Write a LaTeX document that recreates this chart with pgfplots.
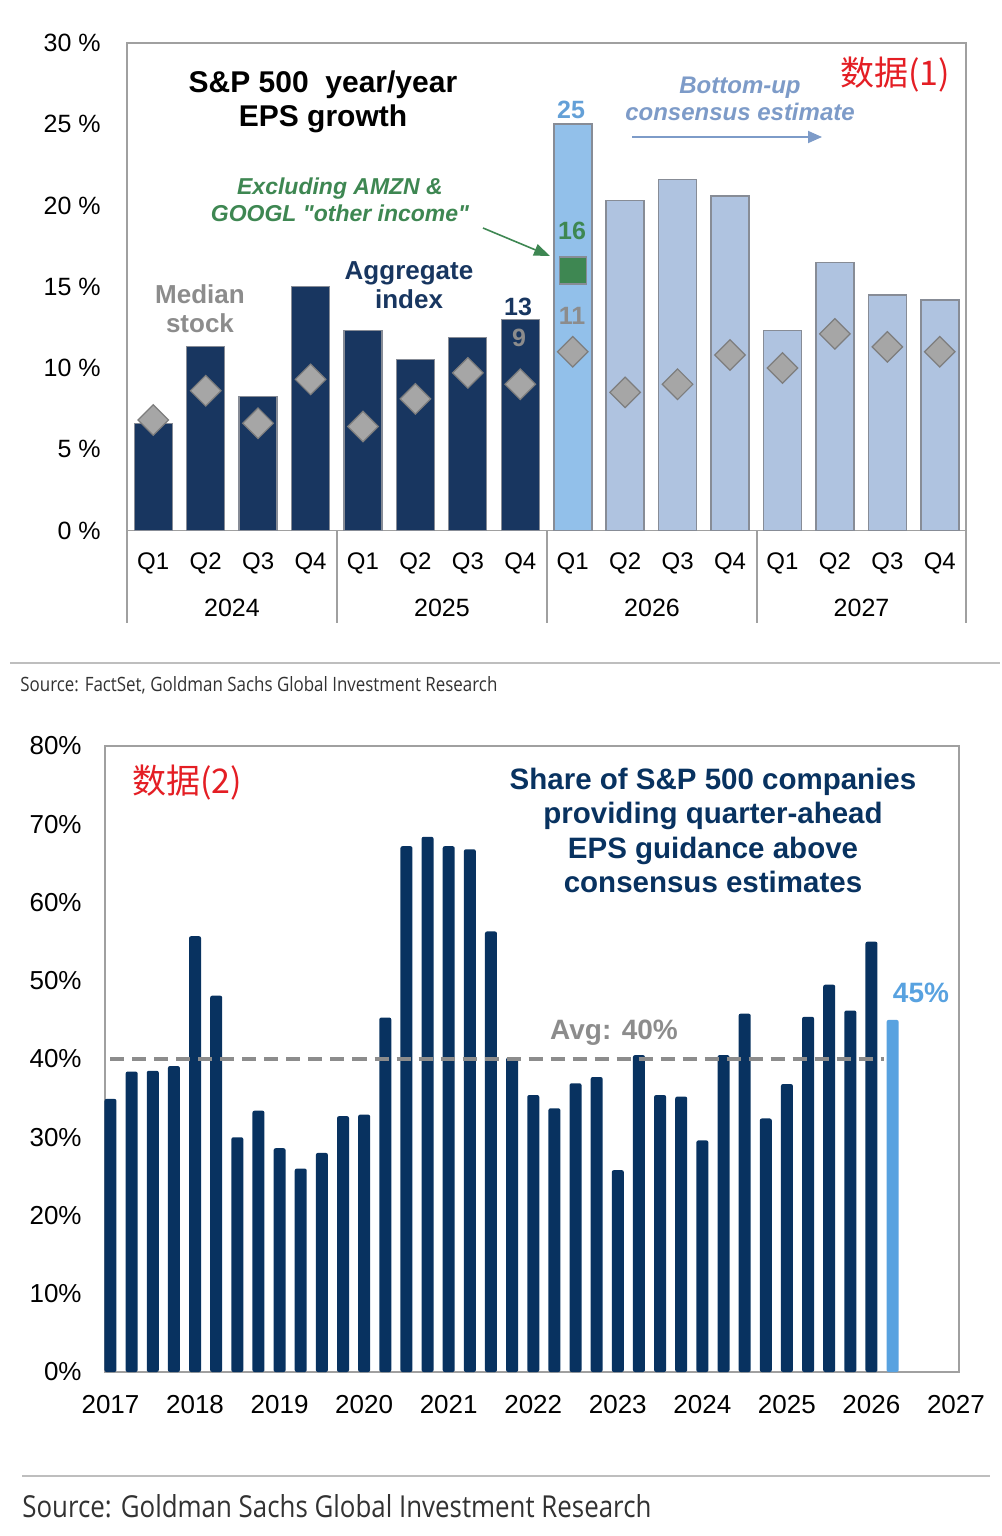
\documentclass[border=0pt]{standalone}
\usepackage{pgfplots}
\pgfplotsset{compat=1.18}
\usepackage{fontspec}
\setmainfont{Liberation Sans}
\newfontfamily\qfont{Liberation Sans}
\newfontfamily\cjk{Noto Sans CJK SC}
\newfontfamily\srcfont{Open Sans}
\usetikzlibrary{arrows.meta}

\definecolor{navy}{RGB}{24,54,96}
\definecolor{navytwo}{RGB}{8,50,96}
\definecolor{lightbar}{RGB}{175,195,224}
\definecolor{skybar}{RGB}{146,192,234}
\definecolor{skytwo}{RGB}{88,162,224}
\definecolor{barline}{RGB}{135,140,150}
\definecolor{diafill}{RGB}{166,166,166}
\definecolor{dialine}{RGB}{125,125,125}
\definecolor{exgreen}{RGB}{62,135,82}
\definecolor{medgray}{RGB}{140,140,140}
\definecolor{consblue}{RGB}{125,155,200}
\definecolor{valblue}{RGB}{100,160,215}
\definecolor{axgray}{RGB}{160,160,160}
\definecolor{rulegray}{RGB}{190,190,190}
\definecolor{avggray}{RGB}{140,140,140}
\definecolor{tagred}{RGB}{228,30,36}
\definecolor{srcgray}{RGB}{50,50,50}

\begin{document}
\begin{tikzpicture}
\path (0,0) rectangle (500pt,-768pt);

% ---------- Panel 1: S&P 500 year/year EPS growth ----------
\begin{axis}[
  at={(63.5pt,-265.25pt)}, anchor=south west,
  scale only axis, width=419.5pt, height=243.75pt,
  xmin=-0.5, xmax=15.5, ymin=0, ymax=30,
  axis line style={draw=axgray, line width=0.9pt},
  major tick length=0pt,
  xtick={0,...,15},
  xticklabels={Q1,Q2,Q3,Q4,Q1,Q2,Q3,Q4,Q1,Q2,Q3,Q4,Q1,Q2,Q3,Q4},
  ytick={0,5,...,30},
  yticklabel={\pgfmathprintnumber[assume math mode=true]{\tick}~\%},
  xticklabel style={anchor=center, inner sep=0pt, yshift=-16.25pt, font=\fontsize{12}{14}\selectfont},
  yticklabel style={anchor=east, inner sep=0pt, xshift=-13pt, font=\fontsize{12.5}{15}\selectfont},
  clip=false,
]
% reported aggregate index
\addplot[ybar, bar width=19pt, bar shift=0pt, fill=navy, draw=barline, line width=0.6pt]
  coordinates {(0,6.6) (1,11.3) (2,8.25) (3,15.0) (4,12.3) (5,10.5) (6,11.9) (7,13)};
% current quarter
\addplot[ybar, bar width=19pt, bar shift=0pt, fill=skybar, draw=barline, line width=0.8pt]
  coordinates {(8,25)};
% consensus estimates
\addplot[ybar, bar width=19pt, bar shift=0pt, fill=lightbar, draw=barline, line width=0.8pt]
  coordinates {(9,20.3) (10,21.6) (11,20.6) (12,12.3) (13,16.5) (14,14.5) (15,14.2)};
% excluding AMZN & GOOGL other income
\addplot[only marks, mark=square*, mark size=6.75pt,
  mark options={fill=exgreen, draw=barline, line width=0.6pt}]
  coordinates {(8,16)};
% median stock
\addplot[only marks, mark=square*, mark size=5.4pt,
  mark options={rotate=45, fill=diafill, draw=dialine, line width=0.6pt}]
  coordinates {(0,6.8) (1,8.6) (2,6.6) (3,9.3) (4,6.4) (5,8.1) (6,9.7) (7,9)
               (8,11) (9,8.5) (10,9.0) (11,10.8) (12,10.0) (13,12.1) (14,11.3) (15,11.0)};
\end{axis}

% ---------- Panel 2: share of companies guiding above consensus ----------
\begin{axis}[
  at={(52.5pt,-686pt)}, anchor=south west,
  scale only axis, width=427pt, height=313pt,
  xmin=2016.935, xmax=2027.035, ymin=0, ymax=80,
  axis line style={draw=axgray, line width=0.9pt},
  major tick length=0pt,
  xtick={2017,...,2027},
  xticklabels={2017,2018,2019,2020,2021,2022,2023,2024,2025,2026,2027},
  ytick={0,10,...,80},
  yticklabel={\pgfmathprintnumber[assume math mode=true]{\tick}\%},
  xticklabel style={anchor=center, inner sep=0pt, yshift=-16.5pt, font=\fontsize{13}{15}\selectfont},
  yticklabel style={anchor=east, inner sep=0pt, xshift=-11.5pt, font=\fontsize{13}{15}\selectfont},
  clip=false,
]
\addplot[ybar, bar width=6pt, bar shift=0pt, fill=navytwo, draw=none, rounded corners=1pt]
  coordinates {
  (2017.00,34.9) (2017.25,38.4) (2017.50,38.5) (2017.75,39.1)
  (2018.00,55.7) (2018.25,48.1) (2018.50,30.0) (2018.75,33.4)
  (2019.00,28.6) (2019.25,26.0) (2019.50,28.0) (2019.75,32.7)
  (2020.00,32.9) (2020.25,45.3) (2020.50,67.2) (2020.75,68.4)
  (2021.00,67.2) (2021.25,66.8) (2021.50,56.3) (2021.75,40.2)
  (2022.00,35.4) (2022.25,33.7) (2022.50,36.9) (2022.75,37.7)
  (2023.00,25.8) (2023.25,40.5) (2023.50,35.4) (2023.75,35.2)
  (2024.00,29.6) (2024.25,40.5) (2024.50,45.8) (2024.75,32.4)
  (2025.00,36.8) (2025.25,45.4) (2025.50,49.5) (2025.75,46.2)
  (2026.00,55.0)};
\addplot[ybar, bar width=6pt, bar shift=0pt, fill=skytwo, draw=none, rounded corners=1pt]
  coordinates {(2026.25,45)};
% long-run average
\addplot[avggray, line width=2pt, dash pattern=on 7pt off 4pt]
  coordinates {(2017,40) (2026.15,40)};
\end{axis}

% ---------- annotations (1 unit = 0.5pt, y downward) ----------
\begin{scope}[x=0.5pt, y=-0.5pt]
  % panel 1 frame extensions and category separators
  \foreach \sx in {127,337,547,757,966}
    \draw[axgray, line width=0.9pt] (\sx,530.5) -- (\sx,623);
  \foreach \yx/\yr in {232/2024,442/2025,652/2026,861.5/2027}
    \node[font=\fontsize{12.5}{15}\selectfont] at (\yx,608) {\yr};

  \node[align=center, font=\bfseries\fontsize{15}{17}\selectfont] at (323,102)
    {S\&P 500\ \ year/year\\EPS growth};
  \node[align=center, text=medgray, font=\bfseries\fontsize{13}{14.5}\selectfont] at (200,308.5)
    {Median\\stock};
  \node[align=center, text=navy, font=\bfseries\fontsize{13}{14.5}\selectfont] at (409,285.5)
    {Aggregate\\index};
  \node[align=center, text=exgreen, font=\bfseries\itshape\fontsize{11.5}{13.5}\selectfont] at (340,199.5)
    {Excluding AMZN \&\\GOOGL {\qfont "}other income{\qfont "}};
  \draw[exgreen, line width=0.8pt, -{Triangle[length=8pt,width=6pt]}] (483,228) -- (550,256);
  \node[align=center, text=consblue, font=\bfseries\itshape\fontsize{12}{13.5}\selectfont] at (740,98.5)
    {Bottom-up\\consensus estimate};
  \draw[consblue, line width=0.9pt, -{Triangle[length=7pt,width=6pt]}] (632,137) -- (822,137);

  \node[text=valblue, font=\bfseries\fontsize{12.5}{15}\selectfont] at (571,110) {25};
  \node[text=exgreen, font=\bfseries\fontsize{12.5}{15}\selectfont] at (572,231) {16};
  \node[text=medgray, font=\bfseries\fontsize{12.5}{15}\selectfont] at (572,316) {11};
  \node[text=navy, font=\bfseries\fontsize{12.5}{15}\selectfont] at (518,307) {13};
  \node[text=medgray, font=\bfseries\fontsize{12.5}{15}\selectfont] at (519,338) {9};

  \node[text=tagred, font=\cjk\fontsize{17}{20}\selectfont] at (895,75) {数据(1)};

  \draw[rulegray, line width=1.2pt] (10,663) -- (1000,663);
  \node[anchor=base west, inner sep=0pt, text=srcgray] at (20,691)
    {\resizebox{238.5pt}{7.5pt}{\srcfont Source: FactSet, Goldman Sachs Global Investment Research}};

  % panel 2
  \node[align=center, text=navytwo, font=\bfseries\fontsize{14.75}{17.2}\selectfont] at (713,830.5)
    {Share of S\&P 500 companies\\providing quarter-ahead\\EPS guidance above\\consensus estimates};
  \node[text=tagred, font=\cjk\fontsize{17}{20}\selectfont] at (187,783) {数据(2)};
  \node[text=avggray, font=\bfseries\fontsize{14}{16}\selectfont] at (614,1033) {Avg: 40\%};
  \node[text=skytwo, font=\bfseries\fontsize{14}{16}\selectfont] at (921,993) {45\%};

  \draw[rulegray, line width=1.2pt] (22,1476) -- (990,1476);
  \node[anchor=base west, inner sep=0pt, text=srcgray] at (22,1517)
    {\resizebox{314.5pt}{11.5pt}{\srcfont Source: Goldman Sachs Global Investment Research}};
\end{scope}
\end{tikzpicture}
\end{document}
